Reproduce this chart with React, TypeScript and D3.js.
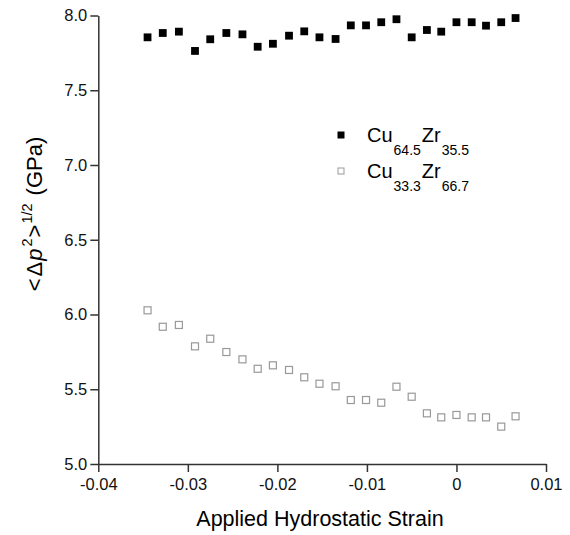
import React, { useEffect, useRef } from "react";
import * as d3 from "d3";

// ---- data ----
const strain = [
  -0.0345, -0.0328, -0.031, -0.0292, -0.0275, -0.0257, -0.0239, -0.0222, -0.0205,
  -0.0187, -0.017, -0.0153, -0.0135, -0.0118, -0.0101, -0.0084, -0.0067, -0.005,
  -0.0033, -0.0017, 0.0, 0.0017, 0.0033, 0.005, 0.0066,
];
const cu645 = [
  7.854, 7.883, 7.892, 7.763, 7.841, 7.883, 7.874, 7.791, 7.811, 7.865, 7.894, 7.854,
  7.843, 7.934, 7.934, 7.955, 7.975, 7.854, 7.903, 7.892, 7.955, 7.955, 7.932, 7.955,
  7.983,
];
const cu333 = [
  6.028, 5.918, 5.93, 5.787, 5.838, 5.749, 5.7, 5.637, 5.66, 5.629, 5.58, 5.537, 5.52,
  5.428, 5.428, 5.41, 5.517, 5.45, 5.339, 5.312, 5.328, 5.312, 5.312, 5.25, 5.319,
];
const xTicks = [-0.04, -0.03, -0.02, -0.01, 0, 0.01];
const xTickLabels = ["-0.04", "-0.03", "-0.02", "-0.01", "0", "0.01"];
const yTicks = [5.0, 5.5, 6.0, 6.5, 7.0, 7.5, 8.0];
const yTickLabels = ["5.0", "5.5", "6.0", "6.5", "7.0", "7.5", "8.0"];

const W = 570;
const H = 535;
const FONT = "'Liberation Sans', Arial, Helvetica, sans-serif";

export default function App() {
  const xRef = useRef<SVGGElement>(null);
  const yRef = useRef<SVGGElement>(null);

  const x = d3.scaleLinear().domain([-0.04, 0.01]).range([98.3, 546]);
  const y = d3.scaleLinear().domain([5, 8]).range([464, 15.5]);

  useEffect(() => {
    const xa = d3
      .axisBottom(x)
      .tickValues(xTicks)
      .tickFormat((d, i) => xTickLabels[i])
      .tickSizeInner(8)
      .tickSizeOuter(0)
      .tickPadding(6);
    const gx = d3.select(xRef.current!);
    gx.call(xa as any);
    gx.selectAll("path,line").attr("stroke", "#333").attr("stroke-width", 1.5);
    gx.selectAll("text")
      .attr("fill", "#111")
      .style("font-family", FONT)
      .style("font-size", "16.5px");

    const ya = d3
      .axisLeft(y)
      .tickValues(yTicks)
      .tickFormat((d, i) => yTickLabels[i])
      .tickSizeInner(8)
      .tickSizeOuter(0)
      .tickPadding(3);
    const gy = d3.select(yRef.current!);
    gy.call(ya as any);
    gy.selectAll("path,line").attr("stroke", "#333").attr("stroke-width", 1.5);
    gy.selectAll("text")
      .attr("fill", "#111")
      .style("font-family", FONT)
      .style("font-size", "16.5px");
  }, []);

  const s1 = 7.8;
  const s2 = 7;

  return (
    <svg
      width={W}
      height={H}
      style={{ position: "absolute", left: 0, top: 0, background: "#fff" }}
      fontFamily={FONT}
    >
      <rect x={0} y={0} width={W} height={H} fill="#fff" />
      <g ref={xRef} transform={`translate(0,${y(5)})`} />
      <g ref={yRef} transform={`translate(${x(-0.04)},0)`} />

      {strain.map((s, i) => (
        <rect
          key={"a" + i}
          x={x(s) - s1 / 2}
          y={y(cu645[i]) - s1 / 2}
          width={s1}
          height={s1}
          fill="#000"
        />
      ))}
      {strain.map((s, i) => (
        <rect
          key={"b" + i}
          x={x(s) - s2 / 2}
          y={y(cu333[i]) - s2 / 2}
          width={s2}
          height={s2}
          fill="#fff"
          stroke="#999"
          strokeWidth={1.2}
        />
      ))}

      {/* legend */}
      <rect x={341 - 3.5} y={135 - 3.5} width={7} height={7} fill="#000" />
      <text x={367} y={142} fontSize={20} fill="#000">
        <tspan>Cu</tspan>
        <tspan dx={1} dy={13} fontSize={14}>64.5</tspan>
        <tspan dx={1} dy={-13} fontSize={20}>Zr</tspan>
        <tspan dx={1} dy={13} fontSize={14}>35.5</tspan>
      </text>
      <rect x={341 - 3} y={171 - 3} width={6} height={6} fill="#fff" stroke="#999" strokeWidth={1} />
      <text x={367} y={178} fontSize={20} fill="#000">
        <tspan>Cu</tspan>
        <tspan dx={1} dy={13} fontSize={14}>33.3</tspan>
        <tspan dx={1} dy={-13} fontSize={20}>Zr</tspan>
        <tspan dx={1} dy={13} fontSize={14}>66.7</tspan>
      </text>

      {/* y axis title */}
      <text
        transform={`translate(42,214) rotate(-90)`}
        textAnchor="middle"
        fontSize={22}
        fill="#000"
      >
        <tspan>{"<"}</tspan>
        <tspan dx={2}>{"Δ"}</tspan>
        <tspan dx={1} fontStyle="italic">p</tspan>
        <tspan dx={2} dy={-10} fontSize={14.5}>2</tspan>
        <tspan dx={1} dy={10}>{">"}</tspan>
        <tspan dx={1} dy={-10} fontSize={14.5}>1/2</tspan>
        <tspan dx={8} dy={10}>{"(GPa)"}</tspan>
      </text>

      {/* x axis title */}
      <text x={320} y={526} textAnchor="middle" fontSize={21.5} fill="#000">
        Applied Hydrostatic Strain
      </text>
    </svg>
  );
}
